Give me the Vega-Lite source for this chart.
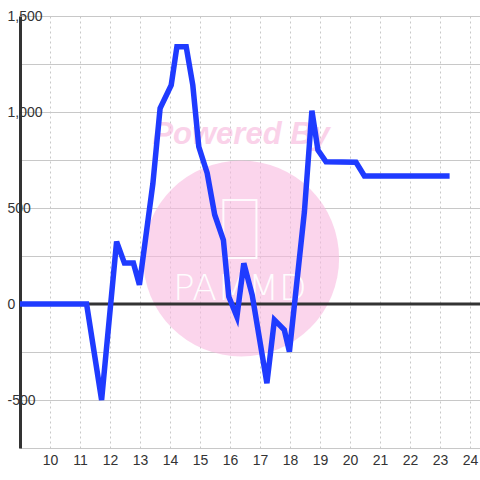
{
  "$schema": "https://vega.github.io/schema/vega-lite/v6.json",
  "width": 460,
  "height": 432,
  "autosize": "none",
  "padding": {"left": 20, "top": 16, "right": 0, "bottom": 32},
  "background": "white",
  "config": {
    "view": {"stroke": null},
    "font": "Liberation Sans",
    "axisX": {
      "title": null,
      "labelExpr": "datum.value < 9.5 ? '' : datum.label",
      "grid": true, "gridDash": [2, 3], "gridColor": "#c8c8c8", "gridWidth": 1,
      "domain": false, "ticks": false, "tickSize": 0,
      "labelFont": "Liberation Sans", "labelFontSize": 14, "labelColor": "#333333", "labelPadding": 5
    },
    "axisY": {
      "title": null,
      "labelExpr": "datum.value % 500 == 0 ? replace(format(datum.value, ','), '\u2212', '-') : ''",
      "grid": true, "gridColor": "#c8c8c8", "gridWidth": 1,
      "domain": true, "domainColor": "#333333", "domainWidth": 3,
      "ticks": false, "tickSize": 0,
      "labelAlign": "left", "labelBaseline": "middle", "labelPadding": 13,
      "labelFont": "Liberation Sans", "labelFontSize": 14, "labelColor": "#333333"
    }
  },
  "datasets": {
    "series": [
      {"hour": 9.0, "value": 0},
      {"hour": 11.22, "value": 0},
      {"hour": 11.72, "value": -500},
      {"hour": 12.22, "value": 325},
      {"hour": 12.48, "value": 213},
      {"hour": 12.78, "value": 213},
      {"hour": 12.98, "value": 100},
      {"hour": 13.43, "value": 628},
      {"hour": 13.67, "value": 1019},
      {"hour": 14.04, "value": 1140},
      {"hour": 14.23, "value": 1340},
      {"hour": 14.54, "value": 1340},
      {"hour": 14.76, "value": 1140},
      {"hour": 14.96, "value": 819},
      {"hour": 15.24, "value": 681},
      {"hour": 15.49, "value": 465},
      {"hour": 15.78, "value": 333},
      {"hour": 15.96, "value": 38},
      {"hour": 16.23, "value": -66},
      {"hour": 16.46, "value": 212},
      {"hour": 16.74, "value": 47},
      {"hour": 17.23, "value": -413},
      {"hour": 17.48, "value": -83},
      {"hour": 17.81, "value": -135},
      {"hour": 17.98, "value": -248},
      {"hour": 18.48, "value": 480},
      {"hour": 18.73, "value": 1007},
      {"hour": 18.93, "value": 802},
      {"hour": 19.2, "value": 741},
      {"hour": 20.2, "value": 738},
      {"hour": 20.48, "value": 667},
      {"hour": 23.32, "value": 667}
    ]
  },
  "layer": [
    {
      "data": {"values": [{}]},
      "mark": {"type": "point", "shape": "circle", "filled": true, "color": "#F8B9DF", "opacity": 0.6, "size": 38416, "strokeWidth": 0},
      "encoding": {
        "x": {"datum": 16.37, "type": "quantitative", "scale": {"domain": [9, 24.333], "nice": false, "zero": false}, "axis": {"title": null, "values": [9, 10, 11, 12, 13, 14, 15, 16, 17, 18, 19, 20, 21, 22, 23, 24]}},
        "y": {"datum": 237, "type": "quantitative", "scale": {"domain": [-750, 1500], "nice": false, "zero": false}, "axis": {"title": null, "values": [-750, -500, -250, 0, 250, 500, 750, 1000, 1250, 1500]}}
      }
    },
    {
      "data": {"values": [{}]},
      "mark": {"type": "point", "shape": "M-0.57,-1L0.57,-1L0.57,1L-0.57,1Z", "filled": false, "stroke": "white", "strokeWidth": 2, "opacity": 0.9, "size": 3364},
      "encoding": {
        "x": {"datum": 16.33, "type": "quantitative", "scale": {"domain": [9, 24.333], "nice": false, "zero": false}, "axis": {"title": null, "values": [9, 10, 11, 12, 13, 14, 15, 16, 17, 18, 19, 20, 21, 22, 23, 24]}},
        "y": {"datum": 391, "type": "quantitative", "scale": {"domain": [-750, 1500], "nice": false, "zero": false}, "axis": {"title": null, "values": [-750, -500, -250, 0, 250, 500, 750, 1000, 1250, 1500]}}
      }
    },
    {
      "data": {"values": [{}]},
      "mark": {"type": "text", "text": "PAMMD", "font": "DejaVu Sans", "fontWeight": 200, "fontSize": 36, "color": "white", "opacity": 0.95, "align": "center", "baseline": "middle"},
      "encoding": {
        "x": {"datum": 16.33, "type": "quantitative", "scale": {"domain": [9, 24.333], "nice": false, "zero": false}, "axis": {"title": null, "values": [9, 10, 11, 12, 13, 14, 15, 16, 17, 18, 19, 20, 21, 22, 23, 24]}},
        "y": {"datum": 80, "type": "quantitative", "scale": {"domain": [-750, 1500], "nice": false, "zero": false}, "axis": {"title": null, "values": [-750, -500, -250, 0, 250, 500, 750, 1000, 1250, 1500]}}
      }
    },
    {
      "data": {"values": [{}]},
      "mark": {"type": "text", "text": "Powered By", "font": "Liberation Sans", "fontSize": 31, "fontWeight": "bold", "fontStyle": "italic", "color": "#F7B5DC", "opacity": 0.6, "align": "center", "baseline": "middle"},
      "encoding": {
        "x": {"datum": 16.37, "type": "quantitative", "scale": {"domain": [9, 24.333], "nice": false, "zero": false}, "axis": {"title": null, "values": [9, 10, 11, 12, 13, 14, 15, 16, 17, 18, 19, 20, 21, 22, 23, 24]}},
        "y": {"datum": 880, "type": "quantitative", "scale": {"domain": [-750, 1500], "nice": false, "zero": false}, "axis": {"title": null, "values": [-750, -500, -250, 0, 250, 500, 750, 1000, 1250, 1500]}}
      }
    },
    {
      "data": {"values": [{}]},
      "mark": {"type": "rule", "color": "#333333", "strokeWidth": 3},
      "encoding": {
        "y": {"datum": 0, "type": "quantitative", "scale": {"domain": [-750, 1500], "nice": false, "zero": false}, "axis": {"title": null, "values": [-750, -500, -250, 0, 250, 500, 750, 1000, 1250, 1500]}}
      }
    },
    {
      "data": {"name": "series"},
      "mark": {"type": "line", "color": "#1F3BFF", "strokeWidth": 5.5, "strokeJoin": "miter"},
      "encoding": {
        "x": {"field": "hour", "type": "quantitative", "scale": {"domain": [9, 24.333], "nice": false, "zero": false}, "axis": {"title": null, "values": [9, 10, 11, 12, 13, 14, 15, 16, 17, 18, 19, 20, 21, 22, 23, 24]}},
        "y": {"field": "value", "type": "quantitative", "scale": {"domain": [-750, 1500], "nice": false, "zero": false}, "axis": {"title": null, "values": [-750, -500, -250, 0, 250, 500, 750, 1000, 1250, 1500]}}
      }
    }
  ]
}
